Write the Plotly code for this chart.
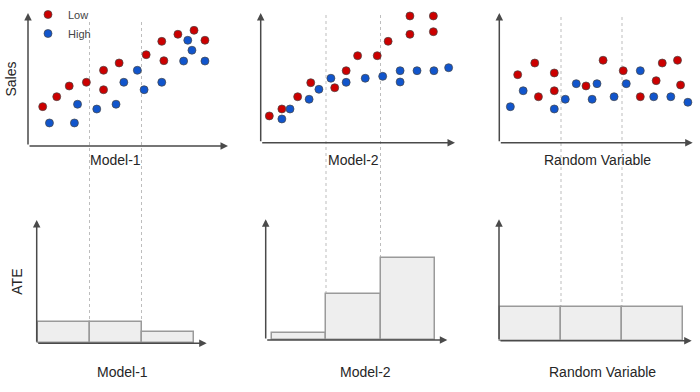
import plotly.graph_objects as go

W, H = 700, 392

# ---------------- data ----------------
panel_names = ["Model-1", "Model-2", "Random Variable"]
series_names = ["Low", "High"]

# Top row: scatter of Sales vs. the model score (x in bin units 0..3)
model1_low_x = [0.10, 0.37, 0.61, 0.94, 1.27, 1.27, 1.57, 2.09, 2.39, 2.43, 2.70, 3.01, 3.22]
model1_low_y = [3.28, 4.11, 5.00, 5.31, 6.31, 4.69, 6.92, 7.61, 8.72, 7.11, 9.31, 9.64, 8.81]
model1_high_x = [0.23, 0.71, 0.77, 1.14, 1.51, 1.66, 1.92, 2.05, 2.39, 2.81, 2.89, 2.97, 3.22]
model1_high_y = [1.92, 1.92, 3.48, 3.08, 3.48, 5.31, 6.31, 4.69, 5.31, 7.08, 8.81, 7.98, 7.08]

model2_low_x = [-0.04, 0.19, 0.48, 0.72, 1.16, 1.37, 1.58, 1.94, 2.14, 2.54, 2.54, 2.97, 2.97]
model2_low_y = [2.23, 2.81, 3.83, 5.00, 4.58, 6.00, 7.25, 7.25, 8.45, 10.56, 9.03, 10.56, 9.25]
model2_high_x = [0.19, 0.34, 0.69, 0.87, 1.09, 1.37, 1.72, 2.04, 2.36, 2.36, 2.67, 2.98, 3.25]
model2_high_y = [1.98, 2.81, 3.62, 4.45, 5.37, 5.03, 5.37, 5.53, 6.00, 5.06, 6.00, 6.00, 6.25]

random_low_x = [0.29, 0.57, 0.63, 0.89, 0.89, 1.41, 1.69, 2.02, 2.30, 2.56, 2.66, 2.91, 2.96]
random_low_y = [5.67, 6.64, 3.83, 5.81, 4.33, 4.73, 6.87, 6.00, 3.83, 5.17, 6.64, 6.87, 4.81]
random_high_x = [0.17, 0.38, 0.89, 1.07, 1.25, 1.51, 1.59, 1.87, 2.07, 2.30, 2.52, 2.80, 3.08]
random_high_y = [3.00, 4.33, 2.81, 3.62, 4.92, 3.62, 4.92, 3.83, 4.92, 6.00, 3.83, 3.83, 3.37]

# Bottom row: ATE per bin
bin_centers = [0.5, 1.5, 2.5]
bin_edges = [1, 2]
ate_model1 = [2.16, 2.16, 1.10]
ate_model2 = [0.73, 4.57, 8.23]
ate_random = [3.40, 3.40, 3.40]

top_y_title = "Sales"
bottom_y_title = "ATE"

# ---------------- layout geometry (pixels) ----------------
SY_TOP = 12.0   # px per Sales unit
SY_BOT = 10.0   # px per ATE unit
TOP_DOM = (0, 175)
BOT_DOM = (180, 392)

cols = [
    dict(px0=37.5, sx=52.0, dom=(0, 235),
         t_axis=146.0, t_org=28.0, t_tip=228.0, t_top=13.0,
         b_axis=343.3, b_org=36.7, b_tip=206.7, b_top=220.0,
         dot_top=22.0, t_lab=1.5, b_lab=1.63),
    dict(px0=271.5, sx=54.5, dom=(235, 465),
         t_axis=142.7, t_org=260.7, t_tip=455.0, t_top=13.0,
         b_axis=340.0, b_org=265.7, b_tip=447.3, b_top=219.3,
         dot_top=15.0, t_lab=1.5, b_lab=1.72),
    dict(px0=500.0, sx=61.0, dom=(465, 700),
         t_axis=142.7, t_org=499.3, t_tip=692.7, t_top=13.0,
         b_axis=340.7, b_org=499.0, b_tip=691.7, b_top=219.3,
         dot_top=17.0, t_lab=1.6, b_lab=1.68),
]

scatter_data = [
    (model1_low_x, model1_low_y, model1_high_x, model1_high_y),
    (model2_low_x, model2_low_y, model2_high_x, model2_high_y),
    (random_low_x, random_low_y, random_high_x, random_high_y),
]
ate_data = [ate_model1, ate_model2, ate_random]

RED = "#cc0000"
BLUE = "#1155cc"
AXIS_COL = "#4a4a4a"
TEXT_COL = "#262626"
FONT = "Arial, Liberation Sans, sans-serif"


def ax_name(kind, i):
    return kind if i == 1 else f"{kind}{i}"


def xv(c, px):
    return (px - c["px0"]) / c["sx"]


fig = go.Figure()
layout = dict(
    width=W, height=H,
    margin=dict(l=0, r=0, t=0, b=0),
    paper_bgcolor="white",
    plot_bgcolor="rgba(0,0,0,0)",
    bargap=0,
    font=dict(family=FONT, color=TEXT_COL),
    showlegend=True,
    legend=dict(x=28 / W, y=1.0, xanchor="left", yanchor="top",
                bgcolor="rgba(0,0,0,0)", font=dict(size=11, color="#444444"),
                itemwidth=30, tracegroupgap=0),
)
annotations = []
shapes = []

for k, c in enumerate(cols):
    xi = k + 1
    yt = k + 1
    yb = k + 4
    xn = ax_name("x", xi)
    ytn = ax_name("y", yt)
    ybn = ax_name("y", yb)
    a, b = c["dom"]

    layout[f"xaxis{xi}"] = dict(domain=[a / W, b / W], range=[xv(c, a), xv(c, b)],
                                visible=False, fixedrange=True, anchor=ytn)
    layout[f"yaxis{yt}"] = dict(domain=[1 - TOP_DOM[1] / H, 1 - TOP_DOM[0] / H],
                                range=[(c["t_axis"] - TOP_DOM[1]) / SY_TOP,
                                       (c["t_axis"] - TOP_DOM[0]) / SY_TOP],
                                visible=False, fixedrange=True, anchor=xn)
    layout[f"yaxis{yb}"] = dict(domain=[1 - BOT_DOM[1] / H, 1 - BOT_DOM[0] / H],
                                range=[(c["b_axis"] - BOT_DOM[1]) / SY_BOT,
                                       (c["b_axis"] - BOT_DOM[0]) / SY_BOT],
                                visible=False, fixedrange=True, anchor=xn)

    lx, ly, hx, hy = scatter_data[k]
    for name, xs, ys, col in ((series_names[0], lx, ly, RED), (series_names[1], hx, hy, BLUE)):
        fig.add_trace(go.Scatter(
            x=xs, y=ys, mode="markers", name=name, xaxis=xn, yaxis=ytn,
            showlegend=(k == 0), legendgroup=name,
            marker=dict(size=8, color=col, line=dict(width=1, color="rgba(70,70,70,0.7)")),
            cliponaxis=False,
        ))

    fig.add_trace(go.Bar(
        x=bin_centers, y=ate_data[k], width=1, xaxis=xn, yaxis=ybn, showlegend=False,
        marker=dict(color="#eeeeee", line=dict(color="#9a9a9a", width=1.5)),
    ))

    # axis arrows (top)
    arrow = dict(text="", showarrow=True, arrowhead=2, arrowsize=1, arrowwidth=1.5,
                 arrowcolor=AXIS_COL, standoff=0)
    annotations.append(dict(arrow, xref=xn, yref=ytn, axref=xn, ayref=ytn,
                            x=xv(c, c["t_tip"]), y=0, ax=xv(c, c["t_org"]), ay=0))
    annotations.append(dict(arrow, xref=xn, yref=ytn, axref=xn, ayref=ytn,
                            x=xv(c, c["t_org"]), y=(c["t_axis"] - c["t_top"]) / SY_TOP,
                            ax=xv(c, c["t_org"]), ay=0))
    # axis arrows (bottom)
    annotations.append(dict(arrow, xref=xn, yref=ybn, axref=xn, ayref=ybn,
                            x=xv(c, c["b_tip"]), y=0, ax=xv(c, c["b_org"]), ay=0))
    annotations.append(dict(arrow, xref=xn, yref=ybn, axref=xn, ayref=ybn,
                            x=xv(c, c["b_org"]), y=(c["b_axis"] - c["b_top"]) / SY_BOT,
                            ax=xv(c, c["b_org"]), ay=0))

    # x-axis labels
    annotations.append(dict(text=panel_names[k], showarrow=False, xref=xn, yref="paper",
                            x=c["t_lab"], y=1 - 160 / H, xanchor="center", yanchor="middle",
                            font=dict(size=14, color=TEXT_COL)))
    annotations.append(dict(text=panel_names[k], showarrow=False, xref=xn, yref="paper",
                            x=c["b_lab"], y=1 - 372 / H, xanchor="center", yanchor="middle",
                            font=dict(size=14, color=TEXT_COL)))

    # dotted bin boundaries spanning both rows
    ate = ate_data[k]
    for j, e in enumerate(bin_edges):
        top_val = max(ate[j], ate[j + 1])
        y_end_px = c["b_axis"] - top_val * SY_BOT
        shapes.append(dict(type="line", xref=xn, yref="paper", x0=e, x1=e,
                           y0=1 - c["dot_top"] / H, y1=1 - y_end_px / H,
                           line=dict(color="#bdbdbd", width=1, dash="dot"), layer="below"))

annotations.append(dict(text=top_y_title, showarrow=False, xref="paper", yref="paper",
                        x=10.5 / W, y=1 - 79 / H, textangle=-90,
                        xanchor="center", yanchor="middle",
                        font=dict(size=14, color=TEXT_COL)))
annotations.append(dict(text=bottom_y_title, showarrow=False, xref="paper", yref="paper",
                        x=17 / W, y=1 - 281.7 / H, textangle=-90,
                        xanchor="center", yanchor="middle",
                        font=dict(size=14, color=TEXT_COL)))

layout["annotations"] = annotations
layout["shapes"] = shapes
fig.update_layout(**layout)
fig.write_html("out.html", config={"displayModeBar": False},
               post_script="document.body.style.margin='0';document.body.style.overflow='hidden';")
